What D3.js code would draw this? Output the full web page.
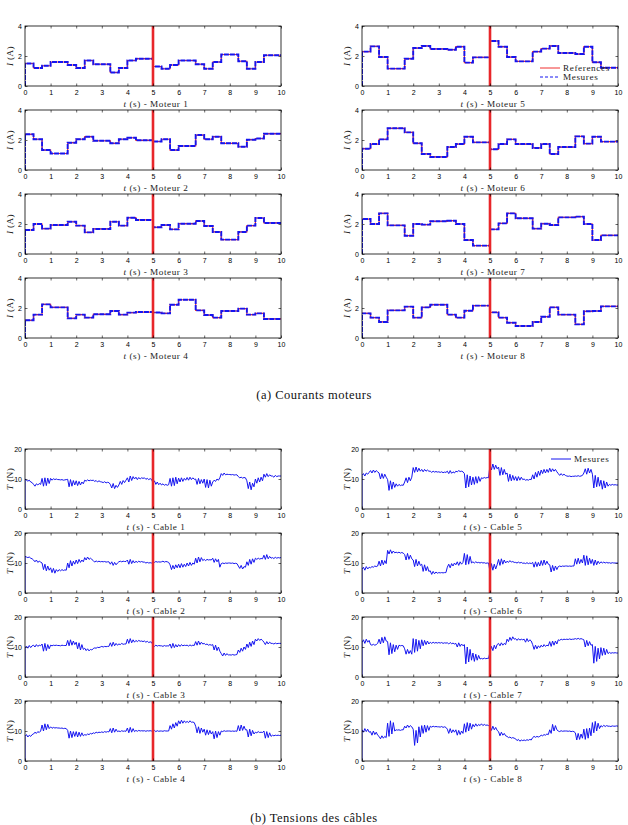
<!DOCTYPE html>
<html><head><meta charset="utf-8">
<script src="https://cdn.jsdelivr.net/npm/d3@7"></script>
<style>body{margin:0;background:#fff}svg{display:block}</style>
</head><body>
<svg id="c" width="628" height="825"></svg>
<script>
// ---------------- DATA ----------------
const timeTicks = [0,1,2,3,4,5,6,7,8,9,10];
const currentTicks = [0,2,4];
const tensionTicks = [0,10,20];
const splitTime = 5;
const stepLength = 1/3;     // reference current steps (s)
const tensionStep = 1/18;   // tension sampling (s)
const startValue = 0;
const motorNames = ["Moteur 1","Moteur 2","Moteur 3","Moteur 4","Moteur 5","Moteur 6","Moteur 7","Moteur 8"];
const cableNames = ["Cable 1","Cable 2","Cable 3","Cable 4","Cable 5","Cable 6","Cable 7","Cable 8"];
const legendCurrents = ["References","Mesures"];
const legendTensions = ["Mesures"];
const captionA = "(a) Courants moteurs";
const captionB = "(b) Tensions des câbles";

const motor1 = [1.5,1.2,1.35,1.6,1.6,1.4,1.2,1.7,1.45,1.45,0.9,1.2,1.7,1.82,1.82,1.3,1.15,1.4,1.7,1.7,1.45,1.15,1.6,2.1,2.1,1.65,1.15,1.6,2.05,2.05];
const motor2 = [2.38,2.05,1.33,1.1,1.1,1.82,2.05,2.22,1.95,1.95,1.78,2.05,2.15,1.98,1.98,1.9,2.05,1.33,1.6,1.6,2.33,2.05,2.22,1.78,1.78,1.55,2.02,2.1,2.42,2.42];
const motor3 = [1.6,2.0,1.69,1.93,1.93,2.15,1.89,1.44,1.67,1.67,2.15,1.89,2.42,2.27,2.27,1.78,1.93,1.64,2.02,2.02,2.2,1.87,1.47,0.96,0.96,1.47,1.89,2.4,2.07,2.07];
const motor4 = [1.18,1.56,2.24,2.04,2.04,1.31,1.56,1.36,1.58,1.58,1.8,1.56,1.69,1.73,1.73,1.7,1.64,2.22,2.55,2.55,1.84,1.53,1.36,1.8,1.8,1.96,1.56,1.64,1.27,1.27];
const motor5 = [2.29,2.64,1.93,1.16,1.16,1.82,2.53,2.67,2.47,2.47,2.42,2.62,1.56,1.91,1.91,3.0,2.62,1.93,1.64,1.64,2.29,2.49,2.67,2.2,2.2,2.13,2.62,1.58,1.22,1.22];
const motor6 = [1.42,1.73,2.04,2.78,2.78,2.51,1.78,1.07,0.87,0.87,1.53,1.73,2.22,1.84,1.84,1.38,1.73,2.04,1.73,1.73,1.47,1.73,1.07,1.53,1.53,2.24,1.76,2.22,1.89,1.89];
const motor7 = [2.33,2.0,2.71,1.91,1.91,1.22,2.0,1.96,2.18,2.18,2.22,2.0,0.93,0.56,0.56,1.64,2.04,2.71,2.38,2.38,1.69,2.02,1.93,2.44,2.44,2.49,2.0,0.93,1.24,1.24];
const motor8 = [1.64,1.36,1.07,1.84,1.84,2.09,1.36,2.04,2.22,2.22,1.56,1.36,1.82,2.16,2.16,1.71,1.36,1.02,0.8,0.8,1.07,1.42,2.04,1.56,1.56,0.91,1.78,1.8,2.11,2.11];

const cable1 = [10.0,9.6,9.3,9.6,9.0,8.8, 8.2,7.6,8.4,8.0,8.5,8.2, 10.2,7.6,10.4,7.8,10.3,8.5, 10.2,9.6,10.1,9.8,10.0,9.8, 9.8,9.7,9.8,9.6,9.7,9.8,
 9.9,7.4,9.8,7.6,9.5,8.0, 9.4,7.8,9.2,8.0,9.0,8.4, 9.6,9.3,9.7,9.4,9.6,9.5, 9.6,9.2,9.5,9.0,9.4,9.1, 9.0,8.8,9.1,8.7,8.9,8.8,
 8.2,7.0,8.5,6.8,7.9,7.2, 8.0,9.2,8.2,9.5,8.8,9.6, 10.4,9.0,11.0,9.5,10.8,10.0, 10.6,9.8,10.5,10.0,10.4,10.2, 10.4,9.9,10.2,9.8,10.1,9.9,
 8.6,9.4,8.2,9.0,8.1,8.6, 8.0,8.4,7.9,8.2,7.9,8.1, 10.2,7.6,10.4,7.8,10.6,8.4, 10.3,9.0,10.4,9.2,10.2,9.6, 10.5,9.6,10.6,9.8,10.4,9.9,
 10.0,8.2,10.2,8.4,9.8,8.6, 10.0,7.2,9.8,7.0,9.6,7.6, 9.0,9.6,9.2,10.0,9.6,10.4, 11.8,11.2,12.0,11.4,11.6,11.5, 11.5,11.4,11.5,11.3,11.4,11.4,
 10.8,10.4,10.6,10.3,10.5,10.4, 9.4,6.8,9.0,6.4,8.6,7.4, 10.0,8.6,10.4,9.0,10.6,9.4, 11.6,10.6,11.8,10.8,11.4,11.0, 11.0,10.6,11.2,10.8,11.0,11.0,11.0];
const cable2 = [12.2,12.0,11.8,12.0,11.6,11.4, 11.0,10.4,11.0,10.2,10.6,10.3, 10.0,7.8,9.6,7.4,9.0,7.6, 8.4,6.8,8.2,6.6,7.8,7.2, 7.8,7.4,7.8,7.5,7.7,7.6,
 10.0,8.4,10.8,9.0,10.6,9.6, 11.0,9.8,11.2,10.2,11.0,10.4, 11.8,11.0,12.0,11.2,11.6,11.2, 10.8,10.3,10.7,10.4,10.6,10.4, 10.5,10.4,10.5,10.3,10.4,10.4,
 9.6,10.4,9.2,10.2,9.4,10.0, 10.4,10.6,10.4,10.6,10.5,10.5, 11.0,9.6,11.2,9.8,10.8,10.0, 10.6,10.2,10.6,10.3,10.5,10.3, 10.3,10.0,10.2,10.0,10.1,10.0,
 10.4,10.2,10.5,10.3,10.4,10.3, 10.4,10.6,10.3,10.5,10.4,10.2, 9.4,7.8,9.2,8.0,9.4,8.4, 9.6,8.4,9.8,8.6,9.6,8.8, 10.0,9.0,10.2,9.2,10.0,9.6,
 11.6,10.0,12.0,10.4,11.8,10.8, 11.2,10.8,11.2,11.0,11.1,11.0, 11.6,10.2,11.4,10.4,11.2,8.6, 9.8,10.0,9.8,10.0,9.9,10.0, 10.0,9.9,10.0,9.8,9.9,9.8,
 9.0,8.2,9.2,8.0,8.8,8.6, 10.4,9.2,11.2,9.6,11.4,10.2, 11.6,11.2,11.6,11.3,11.5,11.4, 12.6,11.2,12.8,11.4,12.2,11.6, 11.8,11.5,11.9,11.6,11.8,11.7,11.8];
const cable3 = [9.8,10.3,9.6,10.5,9.8,10.4, 10.6,10.0,10.8,10.2,10.6,10.4, 11.0,8.6,11.2,8.8,10.8,9.4, 10.6,10.4,10.6,10.5,10.6,10.5, 10.5,10.4,10.6,10.5,10.5,10.5,
 12.2,10.4,12.4,10.6,12.0,10.8, 11.6,9.4,11.4,9.0,10.8,9.2, 9.6,8.8,9.4,8.7,9.2,9.0, 9.5,9.7,9.6,9.9,9.8,10.0, 10.2,10.0,10.2,10.1,10.2,10.2,
 11.4,10.2,11.6,10.4,11.2,10.6, 11.0,10.8,11.2,10.9,11.0,11.0, 12.6,11.2,12.8,11.4,12.4,11.6, 12.2,11.8,12.2,11.9,12.0,11.8, 12.0,11.6,11.9,11.5,11.7,11.6,
 10.6,10.2,10.6,10.3,10.5,10.4, 10.4,10.2,10.5,10.3,10.4,10.3, 11.0,9.6,11.2,9.8,10.8,10.0, 10.8,10.2,10.8,10.4,10.6,10.5, 10.6,10.3,10.7,10.4,10.6,10.5,
 11.8,10.6,12.0,10.8,11.6,11.0, 11.2,10.8,11.0,10.6,10.8,10.6, 10.8,9.0,10.6,8.8,10.0,8.6, 7.8,7.0,8.0,7.2,7.8,7.3, 7.4,7.3,7.5,7.3,7.4,7.5,
 9.0,8.2,9.6,8.6,10.0,9.2, 11.0,9.8,11.6,10.2,12.0,10.8, 12.6,12.0,12.8,12.2,12.6,12.2, 11.6,10.8,11.8,11.0,11.6,11.2, 11.2,11.0,11.3,11.1,11.2,11.2,11.2];
const cable4 = [8.2,8.8,8.0,8.6,8.2,8.8, 9.0,9.6,9.2,9.8,9.5,10.0, 12.0,10.0,12.4,10.4,12.2,10.8, 11.4,10.9,11.2,11.0,11.1,11.0, 11.0,10.9,11.0,10.8,10.9,10.8,
 10.2,7.6,10.0,7.8,9.8,8.2, 9.8,8.0,9.6,8.2,9.4,8.4, 8.8,8.6,9.0,8.8,9.2,9.0, 9.4,9.2,9.6,9.4,9.6,9.5, 9.7,9.5,9.8,9.6,9.8,9.7,
 10.8,9.4,11.0,9.6,10.6,9.8, 10.0,9.8,10.1,9.9,10.0,9.9, 11.0,9.4,11.2,9.6,10.8,9.8, 10.2,9.9,10.2,10.0,10.1,10.0, 10.1,9.9,10.1,10.0,10.1,10.0,
 10.0,10.2,9.8,10.1,9.9,10.0, 10.0,9.9,10.1,10.0,10.0,10.0, 11.8,10.6,12.4,11.0,12.8,11.6, 13.4,12.4,13.6,12.6,13.4,12.8, 13.2,12.8,13.4,12.9,13.0,12.8,
 11.6,9.4,11.4,9.2,11.0,9.6, 10.6,8.6,10.4,8.8,10.2,9.0, 9.8,7.4,10.0,7.8,9.8,8.6, 10.0,9.8,10.1,9.9,10.0,10.0, 10.0,9.9,10.0,9.9,10.0,9.9,
 11.8,10.0,12.0,10.2,11.6,10.4, 10.4,8.0,10.6,8.4,10.2,9.0, 9.6,9.4,9.8,9.5,9.6,9.5, 10.0,7.6,9.8,7.8,9.4,8.2, 8.6,8.4,8.6,8.5,8.6,8.5,8.6];
const cable5 = [11.2,11.8,11.0,12.0,11.6,12.2, 12.8,12.0,13.0,12.2,12.8,12.4, 12.0,10.0,11.8,10.2,11.6,10.6, 9.8,6.2,9.4,6.6,9.0,7.2, 8.4,7.6,8.2,7.8,8.0,7.9,
 9.0,10.4,8.8,10.6,9.4,10.6, 13.8,12.2,14.0,12.4,13.6,12.6, 13.2,12.4,13.2,12.6,13.0,12.6, 12.6,12.2,12.6,12.3,12.5,12.3, 12.4,12.2,12.4,12.1,12.3,12.2,
 12.6,11.8,12.8,11.9,12.4,12.0, 12.6,12.4,12.8,12.5,12.6,12.4, 11.8,7.0,11.4,7.4,11.0,8.0, 10.6,8.2,10.8,8.6,10.8,9.2, 10.4,10.2,10.5,10.3,10.5,10.4,
 14.8,13.0,15.0,13.2,14.6,13.4, 14.0,11.2,13.8,11.4,13.2,11.6, 12.0,9.2,11.6,9.4,11.2,9.6, 10.8,9.4,10.8,9.6,10.6,9.8, 10.0,9.6,9.8,9.6,9.9,9.8,
 11.4,10.0,12.2,10.6,12.6,11.2, 13.0,11.8,13.2,12.0,13.2,12.2, 13.6,12.4,13.4,12.6,13.2,12.4, 11.8,11.2,11.8,11.2,11.6,11.2, 11.0,10.9,11.0,10.8,10.9,10.9,
 11.0,10.9,11.1,10.9,11.0,11.2, 12.0,13.4,11.6,13.6,12.0,13.2, 11.6,7.0,11.2,7.4,10.6,7.6, 9.6,6.6,9.4,7.0,9.0,7.6, 8.2,7.9,8.2,8.0,8.1,8.0,8.0];
const cable6 = [7.8,8.6,7.6,8.8,8.0,8.6, 8.4,8.8,8.6,9.0,8.8,9.0, 10.6,9.0,11.0,9.4,10.8,9.8, 14.2,13.0,14.4,13.2,14.0,13.4, 13.6,13.4,13.6,13.3,13.5,13.3,
 12.8,11.0,13.2,11.2,12.6,11.4, 11.0,8.8,11.2,9.0,10.6,9.2, 9.6,7.2,9.4,7.4,8.8,7.2, 7.4,6.2,7.2,6.4,7.0,6.6, 6.8,6.7,6.8,6.7,6.8,6.8,
 8.6,9.6,8.4,9.8,9.0,10.0, 9.4,10.4,9.2,10.4,9.6,10.2, 13.2,9.4,12.8,9.6,12.2,10.0, 10.4,10.0,10.4,10.1,10.2,10.0, 10.2,10.0,10.1,9.9,10.0,10.0,
 7.0,9.8,7.6,9.6,8.0,9.4, 11.2,9.2,11.4,9.6,11.0,10.0, 10.6,10.2,10.8,10.3,10.5,10.2, 10.2,10.0,10.3,10.0,10.2,9.9, 10.0,9.8,10.1,9.8,10.0,9.8,
 10.2,8.6,10.4,8.8,10.2,9.0, 10.8,9.2,11.0,9.4,10.6,9.6, 9.4,7.0,9.2,7.4,9.0,7.8, 8.8,9.0,8.8,9.0,8.9,9.0, 9.0,8.9,9.0,8.9,9.0,9.0,
 11.4,9.6,11.6,9.8,11.2,10.0, 12.6,9.2,12.4,9.4,11.6,9.8, 11.2,9.2,11.0,9.4,10.6,9.8, 10.4,10.0,10.3,10.0,10.2,10.0, 10.1,9.9,10.1,10.0,10.0,10.0,10.0];
const cable7 = [11.4,12.4,11.2,12.6,11.6,12.2, 10.8,10.6,10.9,10.6,10.8,11.2, 12.6,11.0,13.2,11.4,13.4,12.0, 11.8,7.4,11.4,7.8,10.8,8.4, 10.6,9.2,10.6,10.4,10.5,10.4,
 9.4,7.6,9.2,7.8,8.8,7.6, 12.8,8.2,12.6,8.6,12.2,9.4, 12.4,10.4,12.2,10.8,12.0,11.0, 11.6,11.2,11.6,11.3,11.5,11.3, 11.5,11.3,11.5,11.2,11.4,11.3,
 11.4,11.0,11.5,11.1,11.3,11.0, 11.2,10.0,11.4,10.2,11.0,10.4, 10.8,4.4,10.0,5.0,9.2,5.6, 8.0,5.2,7.6,5.6,7.2,6.0, 6.2,6.0,6.3,6.1,6.2,6.2,
 8.4,10.2,8.8,10.6,9.4,10.8, 11.2,10.4,11.4,10.6,11.2,10.8, 12.6,11.8,13.2,12.2,13.4,12.6, 12.8,12.2,12.8,12.3,12.6,12.4, 12.6,11.6,12.8,11.8,12.4,12.0,
 10.8,9.2,10.6,9.4,10.4,9.8, 10.6,10.0,10.8,10.2,10.6,10.4, 11.8,10.2,12.0,10.6,12.0,11.0, 12.4,12.2,12.6,12.4,12.6,12.5, 12.6,12.5,12.7,12.5,12.6,12.6,
 12.8,12.6,12.9,12.6,12.8,12.6, 12.4,10.0,12.2,10.4,11.8,10.6, 10.8,4.6,10.2,5.2,9.6,6.0, 9.8,7.2,9.6,7.4,9.2,7.8, 8.2,7.9,8.1,8.0,8.1,8.0,8.0];
const cable8 = [10.4,9.6,10.8,9.8,10.6,9.6, 9.8,8.6,10.0,8.8,9.6,8.6, 8.2,7.4,8.4,7.6,8.2,7.8, 12.6,8.2,13.4,9.0,12.8,10.0, 10.4,10.3,10.4,10.2,10.4,10.4,
 11.6,11.0,12.0,11.2,11.8,11.4, 10.6,5.2,10.2,6.0,11.4,8.0, 11.8,9.2,12.0,9.6,11.8,10.2, 11.6,11.3,11.6,11.4,11.5,11.4, 11.4,11.3,11.5,11.2,11.4,11.2,
 10.6,9.2,10.8,9.4,10.4,9.6, 10.4,8.6,10.2,8.8,10.0,9.2, 12.4,9.6,12.8,10.0,12.6,10.6, 12.2,11.4,12.4,11.6,12.2,11.8, 12.4,11.8,12.2,11.9,12.0,11.8,
 11.8,10.2,11.6,10.4,11.2,10.2, 9.8,8.4,9.6,8.6,9.2,8.4, 8.2,7.8,8.0,7.6,7.8,7.6, 7.4,6.8,7.2,6.6,7.0,6.8, 7.0,6.8,7.1,6.9,7.2,7.0,
 7.8,8.2,7.9,8.2,8.0,8.2, 8.6,8.4,8.8,8.6,9.0,8.8, 10.4,9.2,12.2,10.0,11.8,10.4, 10.0,9.8,10.1,9.9,10.0,10.0, 10.0,9.9,10.0,9.8,9.9,9.8,
 9.4,7.0,9.2,7.2,9.0,7.6, 10.6,7.2,10.8,7.6,11.0,8.4, 12.8,9.4,13.2,10.0,12.6,10.8, 11.8,11.4,11.9,11.5,11.8,11.6, 11.6,11.5,11.7,11.6,11.6,11.7,11.6];

const motors = [motor1,motor2,motor3,motor4,motor5,motor6,motor7,motor8];
const cables = [cable1,cable2,cable3,cable4,cable5,cable6,cable7,cable8];

// ---------------- DRAW ----------------
const svg = d3.select("#c");
const RED = "#f03030", REDLINE = "#e8262a", BLUE = "#1414f0";
const colX = [[25,281],[362,618]];
const currentTops = [26,110,194,278];
const tensionTops = [449,533,617,701];
const plotH = 60;
const tickFont = "'Liberation Sans', Arial, sans-serif";
const serif = "'Liberation Serif', 'DejaVu Serif', serif";

function panel(i, top, yDomain, yTicks, yLabel, xName, drawFn) {
  const col = i < 4 ? 0 : 1;
  const [x0, x1] = colX[col];
  const x = d3.scaleLinear().domain([0, 10]).range([x0, x1]);
  const y = d3.scaleLinear().domain(yDomain).range([top + plotH, top]);
  const g = svg.append("g");
  const cid = "clip" + top + "_" + col;
  svg.append("clipPath").attr("id", cid).append("rect")
    .attr("x", x0).attr("y", top).attr("width", x1 - x0).attr("height", plotH);
  const plot = g.append("g").attr("clip-path", `url(#${cid})`);
  drawFn(plot, x, y);
  // red split line
  g.append("line").attr("x1", x(splitTime)).attr("x2", x(splitTime))
    .attr("y1", y(yDomain[0])).attr("y2", y(yDomain[1]))
    .attr("stroke", REDLINE).attr("stroke-width", 2.6);
  // axes
  const styleAx = a => { a.select(".domain").remove(); a.selectAll("line").attr("stroke", "#000").attr("stroke-width", 0.6);
    a.selectAll("text").attr("font-family", tickFont).attr("font-size", 7).attr("fill", "#000"); };
  g.append("g").attr("transform", `translate(0,${y(yDomain[0])})`)
    .call(d3.axisBottom(x).tickValues(timeTicks).tickFormat(d3.format("d")).tickSizeInner(-2.5).tickSizeOuter(0).tickPadding(4))
    .call(styleAx);
  g.append("g").attr("transform", `translate(0,${y(yDomain[1])})`)
    .call(d3.axisTop(x).tickValues(timeTicks).tickFormat("").tickSizeInner(-2.5).tickSizeOuter(0))
    .call(styleAx);
  g.append("g").attr("transform", `translate(${x0},0)`)
    .call(d3.axisLeft(y).tickValues(yTicks).tickFormat(d3.format("d")).tickSizeInner(-2.5).tickSizeOuter(0).tickPadding(3))
    .call(styleAx);
  g.append("g").attr("transform", `translate(${x1},0)`)
    .call(d3.axisRight(y).tickValues(yTicks).tickFormat("").tickSizeInner(-2.5).tickSizeOuter(0))
    .call(styleAx);
  g.append("rect").attr("x", x0).attr("y", top).attr("width", x1 - x0).attr("height", plotH)
    .attr("fill", "none").attr("stroke", "#000").attr("stroke-width", 0.8);
  // x title
  const xt = g.append("text").attr("x", (x0 + x1) / 2 + 3).attr("y", top + plotH + 20.5)
    .attr("text-anchor", "middle").attr("font-family", serif).attr("font-size", 9.2)
    .attr("letter-spacing", 0.55).attr("fill", "#222");
  xt.append("tspan").attr("font-style", "italic").text("t");
  xt.append("tspan").text(" (s) - " + xName);
  // y title
  const yt = g.append("text").attr("transform", `translate(${x0 - 12},${top + plotH / 2}) rotate(-90)`)
    .attr("text-anchor", "middle").attr("font-family", serif).attr("font-size", 9.2)
    .attr("letter-spacing", 0.4).attr("fill", "#222");
  yt.append("tspan").attr("font-style", "italic").text(yLabel[0]);
  yt.append("tspan").text(yLabel[1]);
  return {x, y, g, x0, x1, top};
}

// currents
motors.forEach((vals, i) => {
  const pts = vals.map((v, k) => [k * stepLength, v]).concat([[10, vals[vals.length - 1]]]);
  const p = panel(i, currentTops[i % 4], [0, 4], currentTicks, ["I", " (A)"], motorNames[i], (plot, x, y) => {
    const line = d3.line().x(d => x(d[0])).y(d => y(d[1])).curve(d3.curveStepAfter);
    plot.append("path").attr("d", line(pts)).attr("fill", "none").attr("stroke", RED).attr("stroke-width", 1.2);
    const meas = [[0, startValue]].concat(pts);
    plot.append("path").attr("d", line(meas)).attr("fill", "none").attr("stroke", BLUE)
      .attr("stroke-width", 1.9).attr("stroke-dasharray", "5,1");
  });
  if (i === 4) {
    const lx = p.x0 + 178, ly = p.top + 42;
    const lg = svg.append("g");
    lg.append("line").attr("x1", lx).attr("x2", lx + 20).attr("y1", ly).attr("y2", ly).attr("stroke", RED).attr("stroke-width", 1);
    lg.append("line").attr("x1", lx).attr("x2", lx + 20).attr("y1", ly + 9).attr("y2", ly + 9).attr("stroke", BLUE).attr("stroke-width", 1).attr("stroke-dasharray", "3,2");
    legendCurrents.forEach((t, j) => lg.append("text").attr("x", lx + 23).attr("y", ly + 3 + 9 * j)
      .attr("font-family", serif).attr("font-size", 9.2).attr("letter-spacing", 0.6).attr("fill", "#222").text(t));
  }
});

// tensions
cables.forEach((vals, i) => {
  const pts = [[0, startValue]].concat(vals.map((v, k) => [k * tensionStep, v]));
  const p = panel(i, tensionTops[i % 4], [0, 20], tensionTicks, ["T", " (N)"], cableNames[i], (plot, x, y) => {
    const line = d3.line().x(d => x(d[0])).y(d => y(d[1]));
    plot.append("path").attr("d", line(pts)).attr("fill", "none").attr("stroke", BLUE).attr("stroke-width", 1);
  });
  if (i === 4) {
    const lx = p.x0 + 189, ly = p.top + 10;
    svg.append("line").attr("x1", lx).attr("x2", lx + 20).attr("y1", ly).attr("y2", ly).attr("stroke", BLUE).attr("stroke-width", 1);
    svg.append("text").attr("x", lx + 23).attr("y", ly + 3).attr("font-family", serif).attr("font-size", 9.2)
      .attr("letter-spacing", 0.6).attr("fill", "#222").text(legendTensions[0]);
  }
});

// captions
[[captionA, 399], [captionB, 822]].forEach(([t, yy]) => {
  svg.append("text").attr("x", 314).attr("y", yy).attr("text-anchor", "middle")
    .attr("font-family", serif).attr("font-size", 12.5).attr("letter-spacing", 0.5).attr("fill", "#111").text(t);
});
</script>
</body></html>
